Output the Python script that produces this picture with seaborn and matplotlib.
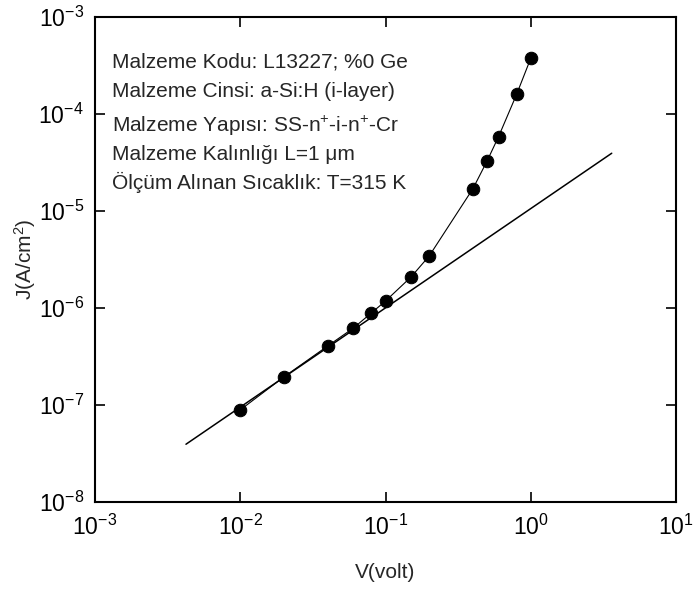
import matplotlib
matplotlib.use("Agg")
import matplotlib.pyplot as plt
import seaborn as sns
import numpy as np
import pandas as pd
from matplotlib.ticker import FixedLocator, NullLocator, FuncFormatter

# Data
voltage = [0.01, 0.02, 0.04, 0.06, 0.08, 0.10, 0.15, 0.20, 0.40, 0.50, 0.60, 0.80, 1.00]
current_density = [8.9e-8, 1.95e-7, 4.06e-7, 6.2e-7, 8.9e-7, 1.18e-6, 2.09e-6, 3.44e-6,
                   1.7e-5, 3.27e-5, 5.83e-5, 1.6e-4, 3.75e-4]
fit_voltage = [0.00423, 3.61]
fit_current = [3.94e-8, 3.94e-5]

info_lines = [
    "Malzeme Kodu: L13227; %0 Ge",
    "Malzeme Cinsi: a-Si:H (i-layer)",
    "Malzeme Yapısı: SS-n$^{+}$-i-n$^{+}$-Cr",
    "Malzeme Kalınlığı L=1 μm",
    "Ölçüm Alınan Sıcaklık: T=315 K",
]
x_label = "V(volt)"
y_label = "J(A/cm$^{2}$)"

sns.set_style("ticks")
plt.rcParams["font.family"] = ["Liberation Sans", "DejaVu Sans"]
plt.rcParams["mathtext.fontset"] = "custom"
plt.rcParams["mathtext.rm"] = "Liberation Sans"
plt.rcParams["mathtext.it"] = "Liberation Sans:italic"
plt.rcParams["mathtext.sf"] = "Liberation Sans"

fig = plt.figure(figsize=(6.94, 5.95), dpi=100)
ax = fig.add_axes([95 / 694, 93 / 595, (676 - 95) / 694, (502 - 17) / 595])

df = pd.DataFrame({"V": voltage, "J": current_density})
fit_df = pd.DataFrame({"V": fit_voltage, "J": fit_current})

sns.lineplot(data=fit_df, x="V", y="J", ax=ax, color="black", linewidth=1.1, sort=False)
sns.lineplot(data=df, x="V", y="J", ax=ax, color="black", linewidth=0.8, sort=False,
             marker="o", markersize=9, markeredgecolor="black", markerfacecolor="black")

ax.set_xscale("log")
ax.set_yscale("log")
ax.set_xlim(1e-3, 1e1)
ax.set_ylim(1e-8, 1e-3)

ax.xaxis.set_major_locator(FixedLocator([1e-3, 1e-2, 1e-1, 1e0, 1e1]))
ax.yaxis.set_major_locator(FixedLocator([1e-8, 1e-7, 1e-6, 1e-5, 1e-4, 1e-3]))
ax.xaxis.set_minor_locator(NullLocator())
ax.yaxis.set_minor_locator(NullLocator())
fmt = FuncFormatter(lambda v, p: "$10^{%d}$" % int(round(np.log10(v))))
ax.xaxis.set_major_formatter(fmt)
ax.yaxis.set_major_formatter(fmt)

ax.tick_params(which="major", direction="in", length=7, width=1.2, labelsize=16.5,
               top=True, right=True, colors="black")
ax.tick_params(axis="x", pad=9)
ax.tick_params(axis="y", pad=8)
for s in ax.spines.values():
    s.set_linewidth(1.5)
    s.set_color("black")

ax.set_xlabel(x_label, fontsize=15)
ax.set_ylabel(y_label, fontsize=15)
ax.xaxis.label.set_va("center")
ax.yaxis.label.set_va("center")
ax.xaxis.set_label_coords(0.5, (502 - 573) / 485)
ax.yaxis.set_label_coords((25 - 95) / 581, 0.5)

y_baselines = [68, 97, 132, 160, 189]
for txt, yp in zip(info_lines, y_baselines):
    fig.text(112 / 694, 1 - yp / 595, txt, fontsize=15, va="baseline", ha="left")

fig.savefig("out.png", dpi=100)
